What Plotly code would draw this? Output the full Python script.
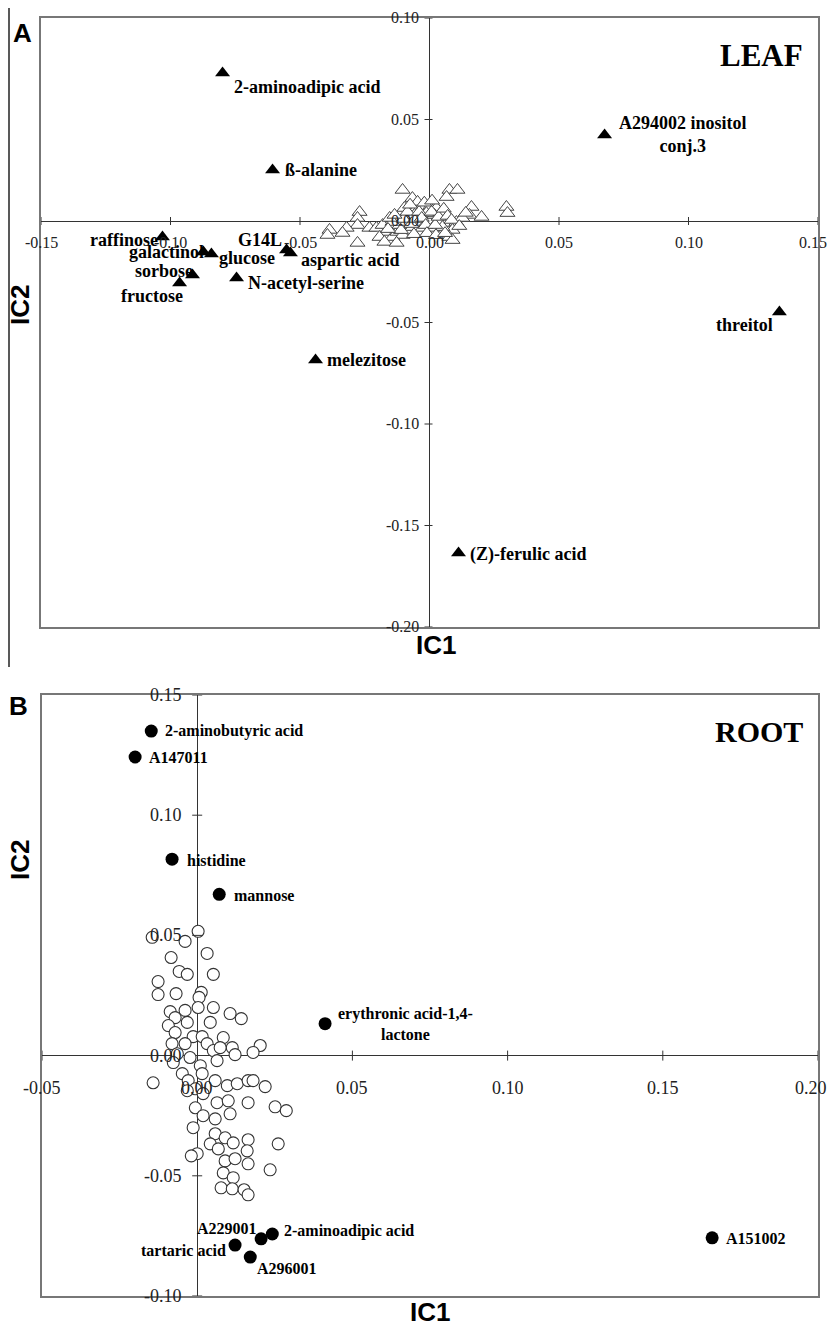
import plotly.graph_objects as go

W, H = 832, 1328

# ---------------- Panel A : LEAF ----------------
leaf_names = ["2-aminoadipic acid", "ß-alanine", "raffinose", "galactinol", "glucose",
              "sorbose", "fructose", "N-acetyl-serine", "G14L", "aspartic acid",
              "A294002 inositol<br>conj.3", "threitol", "melezitose", "(Z)-ferulic acid"]
leaf_ic1 = [-0.0799, -0.0606, -0.1031, -0.0873, -0.0842, -0.0915, -0.0965, -0.0745,
            -0.0552, -0.0537, 0.0676, 0.1351, -0.0440, 0.0112]
leaf_ic2 = [0.0729, 0.0251, -0.0079, -0.0153, -0.0163, -0.0266, -0.0305, -0.0281,
            -0.0143, -0.0158, 0.0424, -0.0448, -0.0685, -0.1635]

leaf_bg_ic1 = [-0.0104, -0.0066, 0.0077, 0.0108, 0.0066, 0.0162, 0.0154, 0.0201, 0.0297, 0.0301,
               -0.0270, -0.0278, -0.0278, -0.0278, -0.0386, -0.0394, -0.0320, -0.0336, -0.0232, -0.0205,
               -0.0181, -0.0166, -0.0193, -0.0143, -0.0124, -0.0077, -0.0050, -0.0027, 0.0000, 0.0027,
               0.0046, -0.0039, 0.0000, 0.0039, 0.0066, 0.0104, 0.0127, 0.0089, 0.0077, 0.0039,
               -0.0077, -0.0104, -0.0116, -0.0143, -0.0154, -0.0089, -0.0066, -0.0027, 0.0012, -0.0174,
               -0.0127, 0.0089, 0.0050, -0.0058, -0.0019, 0.0019, -0.0046, -0.0012, -0.0097,
               -0.0100, -0.0085, -0.0070, -0.0055, -0.0040, -0.0030, -0.0015, 0.0008, 0.0022, 0.0035,
               0.0055, 0.0070, 0.0085, -0.0110, -0.0060, -0.0010, 0.0025, 0.0060, -0.0135, -0.0160,
               0.0115, 0.0140, -0.0020, 0.0010, -0.0075]
leaf_bg_ic2 = [0.0153, 0.0113, 0.0153, 0.0153, 0.0118, 0.0069, 0.0030, 0.0020, 0.0069, 0.0039,
               0.0044, 0.0015, -0.0020, -0.0108, -0.0044, -0.0069, -0.0034, -0.0059, -0.0034, -0.0034,
               -0.0020, -0.0054, -0.0079, -0.0079, -0.0054, 0.0030, 0.0064, 0.0064, 0.0069, 0.0064,
               0.0044, -0.0005, -0.0005, -0.0005, -0.0010, -0.0005, 0.0015, -0.0044, -0.0079, -0.0054,
               -0.0054, -0.0069, -0.0020, -0.0005, 0.0015, -0.0005, -0.0030, -0.0034, -0.0034, -0.0103,
               -0.0108, -0.0094, -0.0030, 0.0030, 0.0030, 0.0030, 0.0094, 0.0039, 0.0064,
               0.0010, 0.0045, -0.0015, 0.0010, 0.0045, 0.0015, -0.0020, 0.0045, -0.0020, 0.0020,
               0.0060, 0.0025, 0.0005, -0.0045, -0.0065, -0.0060, -0.0070, -0.0060, 0.0030, -0.0040,
               -0.0025, 0.0040, 0.0090, 0.0100, 0.0080]

leaf_x_ticks = [-0.15, -0.10, -0.05, 0.00, 0.05, 0.10, 0.15]
leaf_y_ticks = [0.10, 0.05, 0.00, -0.05, -0.10, -0.15, -0.20]

# ---------------- Panel B : ROOT ----------------
root_names = ["2-aminobutyric acid", "A147011", "histidine", "mannose",
              "erythronic acid-1,4-<br>lactone", "A151002", "2-aminoadipic acid",
              "A229001", "tartaric acid", "A296001"]
root_ic1 = [-0.0148, -0.0200, -0.0081, 0.0071, 0.0412, 0.1659, 0.0242, 0.0206, 0.0122, 0.0171]
root_ic2 = [0.1350, 0.1242, 0.0817, 0.0671, 0.0133, -0.0758, -0.0742, -0.0762, -0.0788, -0.0838]

root_bg_ic1 = [0.0003, -0.0039, 0.0032, -0.0084, -0.0058, -0.0032, 0.0052, -0.0126, -0.0126, -0.0068,
               0.0013, 0.0006, -0.0087, -0.0039, 0.0003, 0.0052, 0.0106, 0.0142, -0.0071, -0.0032,
               0.0042, -0.0093, -0.0071, -0.0013, 0.0016, 0.0084, -0.0081, -0.0039, 0.0032, 0.0113,
               0.0203, 0.0180, 0.0052, -0.0064, -0.0023, 0.0122, 0.0064, 0.0010, -0.0048, 0.0016,
               -0.0142, -0.0029, 0.0058, 0.0097, 0.0129, 0.0164, 0.0180, 0.0219, -0.0006, 0.0019,
               0.0064, 0.0100, 0.0164, -0.0006, 0.0019, 0.0058, 0.0106, 0.0251, 0.0287, -0.0013,
               0.0058, 0.0090, 0.0116, 0.0164, 0.0042, 0.0068, 0.0000, -0.0019, 0.0161, 0.0261,
               0.0090, 0.0122, 0.0164, 0.0235, 0.0084, 0.0116, 0.0077, 0.0113, 0.0151, 0.0164,
               -0.0077, -0.0145, 0.0074, -0.0032]
root_bg_ic2 = [0.0517, 0.0475, 0.0425, 0.0408, 0.0350, 0.0338, 0.0338, 0.0308, 0.0254, 0.0258,
               0.0263, 0.0242, 0.0183, 0.0188, 0.0200, 0.0200, 0.0175, 0.0154, 0.0158, 0.0138,
               0.0138, 0.0125, 0.0096, 0.0079, 0.0079, 0.0075, 0.0050, 0.0050, 0.0050, 0.0033,
               0.0042, 0.0013, 0.0021, 0.0008, -0.0008, 0.0004, -0.0021, -0.0042, -0.0075, -0.0075,
               -0.0113, -0.0104, -0.0104, -0.0125, -0.0117, -0.0104, -0.0104, -0.0129, -0.0138, -0.0158,
               -0.0196, -0.0188, -0.0196, -0.0217, -0.0250, -0.0263, -0.0242, -0.0213, -0.0229, -0.0300,
               -0.0325, -0.0342, -0.0363, -0.0350, -0.0367, -0.0388, -0.0408, -0.0417, -0.0396, -0.0367,
               -0.0438, -0.0429, -0.0450, -0.0475, -0.0488, -0.0508, -0.0550, -0.0554, -0.0558, -0.0579,
               -0.0029, 0.0492, 0.0033, -0.0146]

root_x_ticks = [-0.05, 0.00, 0.05, 0.10, 0.15, 0.20]
root_y_ticks = [0.15, 0.10, 0.05, 0.00, -0.05, -0.10]

# ---------------- label placement (style) ----------------
leaf_label_pos = [("left", 9, -14), ("left", 10, 0), ("right", -2, -3), ("right", 3, 0),
                  ("left", 6, -4), ("right", 2, 4), ("right", 5, -13), ("left", 9, -5),
                  ("right", -3, 10), ("left", 9, -7), ("left", 12, 0), ("right", -4, -13),
                  ("left", 9, 0), ("left", 9, -2)]
root_label_pos = [("left", 12, 0), ("left", 12, 0), ("left", 13, -1), ("left", 13, -1),
                  ("left", 11, 0), ("left", 12, -1), ("left", 10, 3), ("right", -2, 10),
                  ("right", -7, -5), ("left", 5, -11)]


def px_x(p):
    return p / W


def px_y(p):
    return 1 - p / H


SERIF = "Liberation Serif"
SANS = "Liberation Sans"

fig = go.Figure()

fig.add_trace(go.Scatter(x=leaf_bg_ic1, y=leaf_bg_ic2, mode="markers", xaxis="x", yaxis="y",
                         marker=dict(symbol="triangle-up", size=13, color="white",
                                     line=dict(color="#444", width=1)),
                         hoverinfo="skip", showlegend=False))
fig.add_trace(go.Scatter(x=leaf_ic1, y=leaf_ic2, mode="markers", xaxis="x", yaxis="y",
                         marker=dict(symbol="triangle-up", size=13, color="black"),
                         text=leaf_names, showlegend=False))
fig.add_trace(go.Scatter(x=root_bg_ic1, y=root_bg_ic2, mode="markers", xaxis="x2", yaxis="y2",
                         marker=dict(symbol="circle", size=12, color="white",
                                     line=dict(color="#333", width=1.1)),
                         hoverinfo="skip", showlegend=False))
fig.add_trace(go.Scatter(x=root_ic1, y=root_ic2, mode="markers", xaxis="x2", yaxis="y2",
                         marker=dict(symbol="circle", size=13, color="black"),
                         text=root_names, showlegend=False))

ann = []
shapes = []

for n, xv, yv, (anc, xs, ys) in zip(leaf_names, leaf_ic1, leaf_ic2, leaf_label_pos):
    ann.append(dict(x=xv, y=yv, xref="x", yref="y", text=n, showarrow=False,
                    xanchor=anc, yanchor="middle", xshift=xs, yshift=ys, align="center",
                    font=dict(family=SERIF, size=18, color="black", weight="bold")))
for n, xv, yv, (anc, xs, ys) in zip(root_names, root_ic1, root_ic2, root_label_pos):
    ann.append(dict(x=xv, y=yv, xref="x2", yref="y2", text=n, showarrow=False,
                    xanchor=anc, yanchor="middle", xshift=xs, yshift=ys, align="center",
                    font=dict(family=SERIF, size=16, color="black", weight="bold")))

tick_font_a = dict(family=SERIF, size=16, color="#222")
tick_font_b = dict(family=SERIF, size=18, color="#222")
for i, v in enumerate(leaf_x_ticks):
    last = i == len(leaf_x_ticks) - 1
    ann.append(dict(x=v, y=0, xref="x", yref="y", text=f"{v:.2f}", showarrow=False,
                    xanchor="right" if last else "center", xshift=11 if last else 0,
                    yanchor="middle", yshift=-22, font=tick_font_a))
for v in leaf_y_ticks:
    ann.append(dict(x=0, y=v, xref="x", yref="y", text=f"{v:.2f}", showarrow=False,
                    xanchor="right", yanchor="middle", xshift=-9, font=tick_font_a))
for i, v in enumerate(root_x_ticks):
    last = i == len(root_x_ticks) - 1
    ann.append(dict(x=v, y=0, xref="x2", yref="y2", text=f"{v:.2f}", showarrow=False,
                    xanchor="right" if last else "center", xshift=11 if last else 0,
                    yanchor="middle", yshift=-32, font=tick_font_b))
for v in root_y_ticks:
    ann.append(dict(x=0, y=v, xref="x2", yref="y2", text=f"{v:.2f}", showarrow=False,
                    xanchor="right", yanchor="middle", xshift=-13, font=tick_font_b))

for v in leaf_x_ticks:
    if v != 0:
        shapes.append(dict(type="line", xref="x", yref="y", x0=v, x1=v, ysizemode="pixel",
                           yanchor=0, y0=-4, y1=4, line=dict(color="#333", width=1)))
for v in leaf_y_ticks:
    if v != 0:
        shapes.append(dict(type="line", xref="x", yref="y", y0=v, y1=v, xsizemode="pixel",
                           xanchor=0, x0=-5, x1=3, line=dict(color="#333", width=1)))
for v in root_x_ticks:
    if v != 0:
        shapes.append(dict(type="line", xref="x2", yref="y2", x0=v, x1=v, ysizemode="pixel",
                           yanchor=0, y0=-5, y1=5, line=dict(color="#333", width=1)))
for v in root_y_ticks:
    if v != 0:
        shapes.append(dict(type="line", xref="x2", yref="y2", y0=v, y1=v, xsizemode="pixel",
                           xanchor=0, x0=-5, x1=5, line=dict(color="#333", width=1)))

shapes.append(dict(type="line", xref="paper", yref="paper", x0=px_x(9), x1=px_x(9),
                   y0=px_y(8), y1=px_y(667), line=dict(color="#222", width=1.5)))

big_sans = dict(family=SANS, size=26, color="black", weight="bold")
ann += [
    dict(x=px_x(22), y=px_y(33), xref="paper", yref="paper", text="A", showarrow=False,
         xanchor="center", yanchor="middle", font=big_sans),
    dict(x=px_x(18), y=px_y(706), xref="paper", yref="paper", text="B", showarrow=False,
         xanchor="center", yanchor="middle", font=big_sans),
    dict(x=px_x(805), y=px_y(56), xref="paper", yref="paper", text="LEAF", showarrow=False,
         xanchor="right", yanchor="middle",
         font=dict(family=SERIF, size=31, color="black", weight="bold")),
    dict(x=px_x(805), y=px_y(731), xref="paper", yref="paper", text="ROOT", showarrow=False,
         xanchor="right", yanchor="middle",
         font=dict(family=SERIF, size=30, color="black", weight="bold")),
    dict(x=px_x(436), y=px_y(645), xref="paper", yref="paper", text="IC1", showarrow=False,
         xanchor="center", yanchor="middle", font=big_sans),
    dict(x=px_x(430), y=px_y(1312), xref="paper", yref="paper", text="IC1", showarrow=False,
         xanchor="center", yanchor="middle", font=big_sans),
    dict(x=px_x(20), y=px_y(305), xref="paper", yref="paper", text="IC2", showarrow=False,
         textangle=-90, xanchor="center", yanchor="middle", font=big_sans),
    dict(x=px_x(20), y=px_y(860), xref="paper", yref="paper", text="IC2", showarrow=False,
         textangle=-90, xanchor="center", yanchor="middle", font=big_sans),
]

axis_common = dict(showgrid=False, showticklabels=False, ticks="", showline=True, mirror=True,
                   linecolor="#777", linewidth=1.5, zeroline=True, zerolinecolor="#333",
                   zerolinewidth=1)

fig.update_layout(
    width=W, height=H, margin=dict(l=0, r=0, t=0, b=0),
    paper_bgcolor="white", plot_bgcolor="white",
    xaxis=dict(domain=[px_x(41), px_x(818)], range=[-0.15, 0.15], anchor="y", **axis_common),
    yaxis=dict(domain=[px_y(627), px_y(18)], range=[-0.20, 0.10], anchor="x", **axis_common),
    xaxis2=dict(domain=[px_x(42), px_x(818)], range=[-0.05, 0.20], anchor="y2", **axis_common),
    yaxis2=dict(domain=[px_y(1296), px_y(695)], range=[-0.10, 0.15], anchor="x2", **axis_common),
    annotations=ann, shapes=shapes, showlegend=False,
)

fig.write_html("out.html", config={"displayModeBar": False},
               post_script="document.body.style.margin='0px';document.body.style.overflow='hidden';")
